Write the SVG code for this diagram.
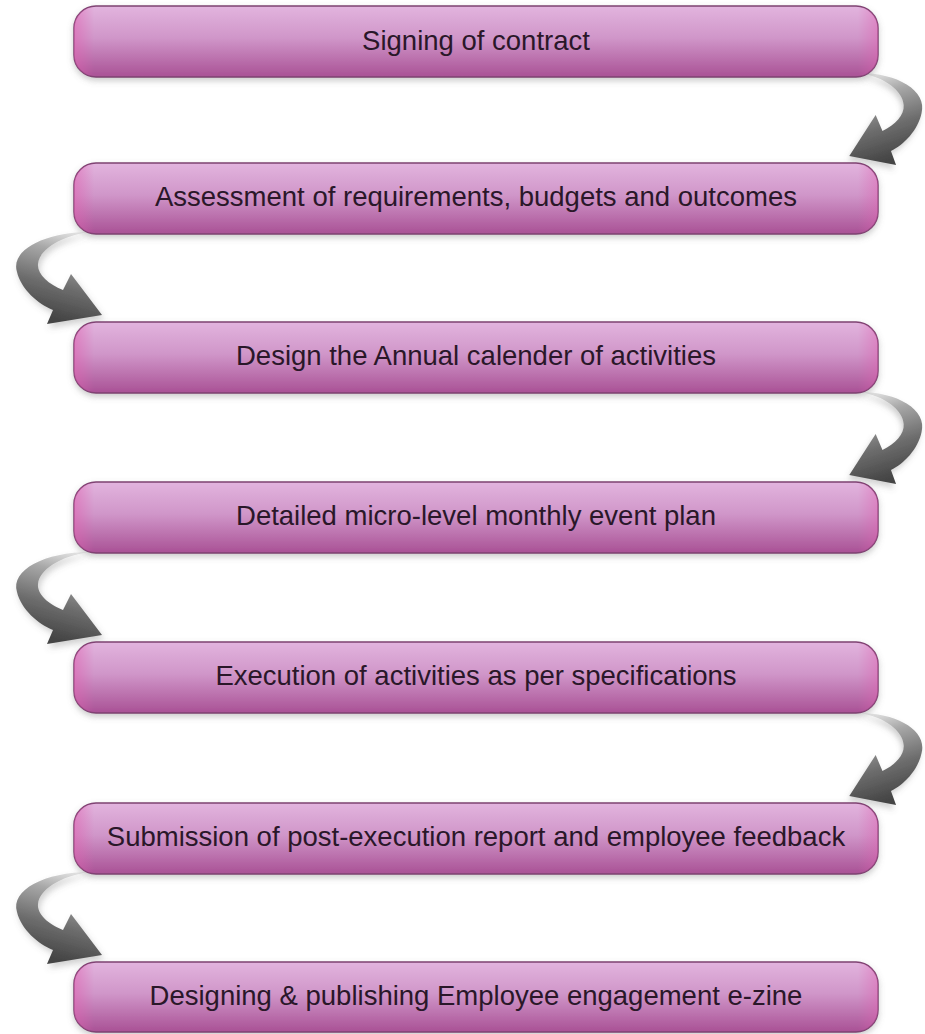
<svg xmlns="http://www.w3.org/2000/svg" width="925" height="1034" viewBox="0 0 925 1034">
<defs>
  <linearGradient id="boxFill" x1="0" y1="0" x2="0" y2="1">
    <stop offset="0" stop-color="#e2b4de"/>
    <stop offset="0.45" stop-color="#d096c9"/>
    <stop offset="1" stop-color="#a95195"/>
  </linearGradient>
  <linearGradient id="boxEdge" x1="0" y1="0" x2="1" y2="0">
    <stop offset="0" stop-color="#e060b0" stop-opacity="0.55"/>
    <stop offset="0.025" stop-color="#e060b0" stop-opacity="0"/>
    <stop offset="0.975" stop-color="#e060b0" stop-opacity="0"/>
    <stop offset="1" stop-color="#e060b0" stop-opacity="0.45"/>
  </linearGradient>
  <linearGradient id="arrowFill" x1="0.95" y1="0" x2="0.7" y2="1">
    <stop offset="0" stop-color="#f4f4f4"/>
    <stop offset="0.3" stop-color="#a8a8a8"/>
    <stop offset="0.65" stop-color="#6e6e6e"/>
    <stop offset="1" stop-color="#454545"/>
  </linearGradient>
  <filter id="boxShadow" x="-5%" y="-20%" width="110%" height="150%">
    <feDropShadow dx="0" dy="3" stdDeviation="3" flood-color="#6a6a6a" flood-opacity="0.35"/>
  </filter>
  <filter id="arrowShadow" x="-30%" y="-30%" width="160%" height="160%">
    <feDropShadow dx="2" dy="4" stdDeviation="3" flood-color="#666" flood-opacity="0.3"/>
  </filter>
  <path id="arrowL" d="M 90 -90 C 45 -90, 10 -72, 17 -50 C 21 -33, 38 -18, 53 -12 L 47 2 L 102 -7 L 71 -48 L 63 -32 C 48 -38, 37 -48, 38 -58 C 39 -72, 60 -86, 90 -90 Z"/>
</defs>
<style>
  .box { fill: url(#boxFill); stroke: #7e4272; stroke-width: 1.5; filter: url(#boxShadow); }
  .edge { fill: url(#boxEdge); stroke: none; }
  .label { font-family: "Liberation Sans", Arial, sans-serif; font-size: 27.5px; fill: #2a1729; text-anchor: middle; }
  .arrow { fill: url(#arrowFill); filter: url(#arrowShadow); }
</style>
<rect width="925" height="1034" fill="#ffffff"/>

<g id="connectors">
  <use href="#arrowL" class="arrow" transform="translate(936,163) scale(-0.85,1)"/>
  <use href="#arrowL" class="arrow" transform="translate(0,322)"/>
  <use href="#arrowL" class="arrow" transform="translate(936,482) scale(-0.85,1)"/>
  <use href="#arrowL" class="arrow" transform="translate(0,642)"/>
  <use href="#arrowL" class="arrow" transform="translate(936,803) scale(-0.85,1)"/>
  <use href="#arrowL" class="arrow" transform="translate(0,962)"/>
</g>

<g id="node1">
  <rect class="box" x="74" y="6" width="804" height="71" rx="22"/>
  <rect class="edge" x="74" y="6" width="804" height="71" rx="22"/>
  <text class="label" x="476" y="50">Signing of contract</text>
</g>
<g id="node2">
  <rect class="box" x="74" y="163" width="804" height="71" rx="22"/>
  <rect class="edge" x="74" y="163" width="804" height="71" rx="22"/>
  <text class="label" x="476" y="206">Assessment of requirements, budgets and outcomes</text>
</g>
<g id="node3">
  <rect class="box" x="74" y="322" width="804" height="71" rx="22"/>
  <rect class="edge" x="74" y="322" width="804" height="71" rx="22"/>
  <text class="label" x="476" y="365">Design the Annual calender of activities</text>
</g>
<g id="node4">
  <rect class="box" x="74" y="482" width="804" height="71" rx="22"/>
  <rect class="edge" x="74" y="482" width="804" height="71" rx="22"/>
  <text class="label" x="476" y="525">Detailed micro-level monthly event plan</text>
</g>
<g id="node5">
  <rect class="box" x="74" y="642" width="804" height="71" rx="22"/>
  <rect class="edge" x="74" y="642" width="804" height="71" rx="22"/>
  <text class="label" x="476" y="685">Execution of activities as per specifications</text>
</g>
<g id="node6">
  <rect class="box" x="74" y="803" width="804" height="71" rx="22"/>
  <rect class="edge" x="74" y="803" width="804" height="71" rx="22"/>
  <text class="label" x="476" y="846">Submission of post-execution report and employee feedback</text>
</g>
<g id="node7">
  <rect class="box" x="74" y="962" width="804" height="70" rx="22"/>
  <rect class="edge" x="74" y="962" width="804" height="70" rx="22"/>
  <text class="label" x="476" y="1005">Designing &amp; publishing Employee engagement e-zine</text>
</g>
</svg>
